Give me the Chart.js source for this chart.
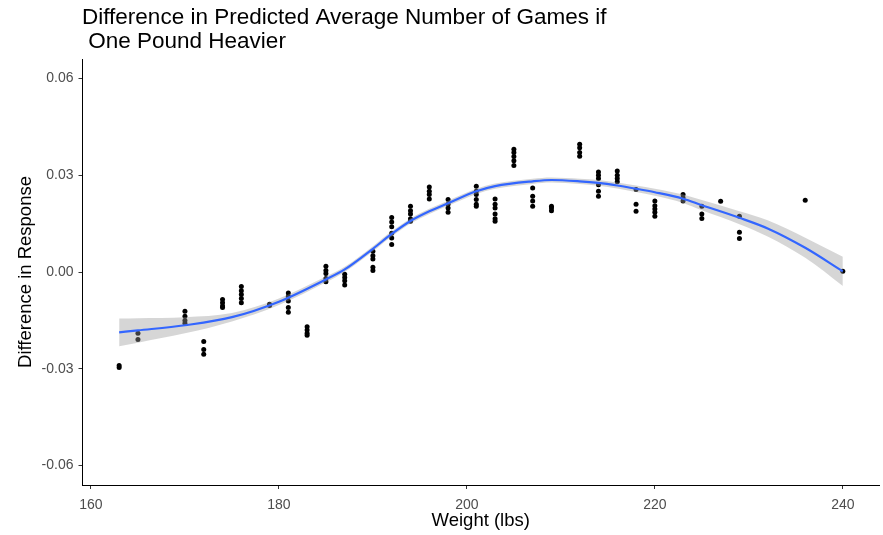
<!DOCTYPE html>
<html>
<head>
<meta charset="utf-8">
<script src="https://cdn.jsdelivr.net/npm/chart.js@4.4.1/dist/chart.umd.min.js"></script>
<style>
  html, body { margin: 0; padding: 0; background: #fff; }
</style>
</head>
<body>
<canvas id="diffChart" width="883" height="535"></canvas>
<script>
const titleLines = ["Difference in Predicted Average Number of Games if", " One Pound Heavier"];
const xTicks = [160, 180, 200, 220, 240];
const yTicks = [-0.06, -0.03, 0, 0.03, 0.06];

// one entry per player weight, with every predicted difference at that weight
const pointWeights = [163, 165, 170, 172, 174, 176, 179, 181, 183, 185, 187, 190, 192, 194, 196, 198,
    201, 203, 205, 207, 209, 212, 214, 216, 218, 220, 223, 225, 227, 229, 236, 240];
const pointDiffs = [
    [-0.0290, -0.0296],
    [-0.0209, -0.0190],
    [-0.0122, -0.0137, -0.0150, -0.0159],
    [-0.0215, -0.0240, -0.0255],
    [-0.0085, -0.0095, -0.0105, -0.0110],
    [-0.0045, -0.0058, -0.0070, -0.0082, -0.0095],
    [-0.0100, -0.0104],
    [-0.0065, -0.0076, -0.0090, -0.0110, -0.0125],
    [-0.0170, -0.0180, -0.0190, -0.0196],
    [0.0018, 0.0005, -0.0005, -0.0020, -0.0030],
    [-0.0007, -0.0017, -0.0027, -0.0040],
    [0.0064, 0.0050, 0.0040, 0.0015, 0.0005],
    [0.0169, 0.0155, 0.0140, 0.0120, 0.0105, 0.0085],
    [0.0204, 0.0190, 0.0180, 0.0165, 0.0157],
    [0.0263, 0.0250, 0.0240, 0.0226],
    [0.0225, 0.0210, 0.0198, 0.0185],
    [0.0266, 0.0250, 0.0240, 0.0225, 0.0210, 0.0204],
    [0.0226, 0.0210, 0.0198, 0.0180, 0.0165, 0.0157],
    [0.0380, 0.0370, 0.0358, 0.0345, 0.0330],
    [0.0260, 0.0235, 0.0220, 0.0204],
    [0.0204, 0.0198, 0.0190],
    [0.0396, 0.0385, 0.0370, 0.0359],
    [0.0310, 0.0300, 0.0290, 0.0270, 0.0250, 0.0235],
    [0.0313, 0.0300, 0.0290, 0.0280],
    [0.0256, 0.0210, 0.0188],
    [0.0220, 0.0205, 0.0195, 0.0185, 0.0173],
    [0.0240, 0.0230, 0.0220],
    [0.0204, 0.0180, 0.0166],
    [0.0219],
    [0.0173, 0.0123, 0.0104],
    [0.0222],
    [0.0002],
];

// loess fit and its confidence band
const fitWeights = [163, 165, 170, 175, 180, 185, 187, 190, 192, 194, 196, 198, 201, 203,
    207, 209, 212, 214, 216, 218, 220, 223, 225, 229, 232, 236, 240];
const fitValues = [-0.0187, -0.0181, -0.0165, -0.0140, -0.0092, -0.0023, 0.0008, 0.0072, 0.0118, 0.0158,
    0.0188, 0.0213, 0.0250, 0.0266, 0.0281, 0.0285, 0.0281, 0.0276, 0.0268, 0.0258, 0.0247, 0.0227,
    0.0207, 0.0168, 0.0135, 0.0075, 0.0002];
const bandLower = [-0.0230, -0.0219, -0.0190, -0.0153, -0.0102, -0.0032, 0.0000, 0.0064, 0.0110, 0.0150,
    0.0180, 0.0205, 0.0242, 0.0258, 0.0273, 0.0277, 0.0273, 0.0267, 0.0259, 0.0248, 0.0236, 0.0214,
    0.0191, 0.0148, 0.0110, 0.0044, -0.0043];
const bandUpper = [-0.0144, -0.0143, -0.0140, -0.0127, -0.0082, -0.0014, 0.0016, 0.0080, 0.0126, 0.0166,
    0.0196, 0.0221, 0.0258, 0.0274, 0.0289, 0.0293, 0.0289, 0.0285, 0.0277, 0.0268, 0.0258, 0.0240,
    0.0223, 0.0188, 0.0160, 0.0106, 0.0047];

Chart.defaults.font.family = "'Liberation Sans', Arial, sans-serif";

function toXY(xs, ys) {
    return xs.map((x, i) => ({ x: x, y: ys[i] }));
}

const points = [];
pointWeights.forEach((w, i) => {
    pointDiffs[i].forEach((d) => points.push({ x: w, y: d }));
});

const titlePlugin = {
    id: "plotTitle",
    afterDraw(chart) {
        const c = chart.ctx;
        c.save();
        c.font = "22.5px 'Liberation Sans', Arial, sans-serif";
        c.fillStyle = "#000";
        c.textBaseline = "alphabetic";
        titleLines.forEach((line, i) => c.fillText(line, 82, 24 + i * 24));
        c.restore();
    },
};

const tickFont = { size: 14 };
const axisTitleFont = { size: 18.5 };

const ctx = document.getElementById("diffChart").getContext("2d");
new Chart(ctx, {
    type: "scatter",
    data: {
        datasets: [
            {
                label: "lower",
                data: toXY(fitWeights, bandLower),
                showLine: true,
                borderColor: "transparent",
                pointRadius: 0,
                cubicInterpolationMode: "monotone",
                fill: false,
                order: 2,
            },
            {
                label: "upper",
                data: toXY(fitWeights, bandUpper),
                showLine: true,
                borderColor: "transparent",
                backgroundColor: "rgba(153, 153, 153, 0.4)",
                pointRadius: 0,
                cubicInterpolationMode: "monotone",
                fill: "-1",
                order: 2,
            },
            {
                label: "fit",
                data: toXY(fitWeights, fitValues),
                showLine: true,
                borderColor: "#3366FF",
                borderWidth: 2.2,
                pointRadius: 0,
                cubicInterpolationMode: "monotone",
                fill: false,
                order: 1,
            },
            {
                label: "points",
                data: points,
                pointRadius: 2.5,
                backgroundColor: "#000",
                borderWidth: 0,
                order: 3,
            },
        ],
    },
    options: {
        responsive: false,
        animation: false,
        layout: { padding: { top: 59, right: 2, left: 0, bottom: 0 } },
        plugins: {
            legend: { display: false },
            tooltip: { enabled: false },
        },
        scales: {
            x: {
                type: "linear",
                min: 159.1,
                max: 243.85,
                afterBuildTicks: (scale) => { scale.ticks = xTicks.map((v) => ({ value: v })); },
                afterFit: (scale) => { scale.height = 50; },
                grid: { drawOnChartArea: false, tickLength: 4, color: "#333" },
                border: { color: "#000", width: 1 },
                ticks: { font: tickFont, color: "#4d4d4d", padding: 8, maxRotation: 0 },
                title: { display: true, text: "Weight (lbs)", font: axisTitleFont, color: "#000", padding: { top: 0, bottom: 3 } },
            },
            y: {
                type: "linear",
                min: -0.066,
                max: 0.066,
                afterBuildTicks: (scale) => { scale.ticks = yTicks.map((v) => ({ value: v })); },
                afterFit: (scale) => { scale.width = 82.5; },
                grid: { drawOnChartArea: false, tickLength: 4, color: "#333" },
                border: { color: "#000", width: 1 },
                ticks: { font: tickFont, color: "#4d4d4d", padding: 5, callback: (v) => v.toFixed(2) },
                title: { display: true, text: "Difference in Response", font: axisTitleFont, color: "#000", padding: { top: 15, bottom: 0 } },
            },
        },
    },
    plugins: [titlePlugin],
});
</script>
</body>
</html>
